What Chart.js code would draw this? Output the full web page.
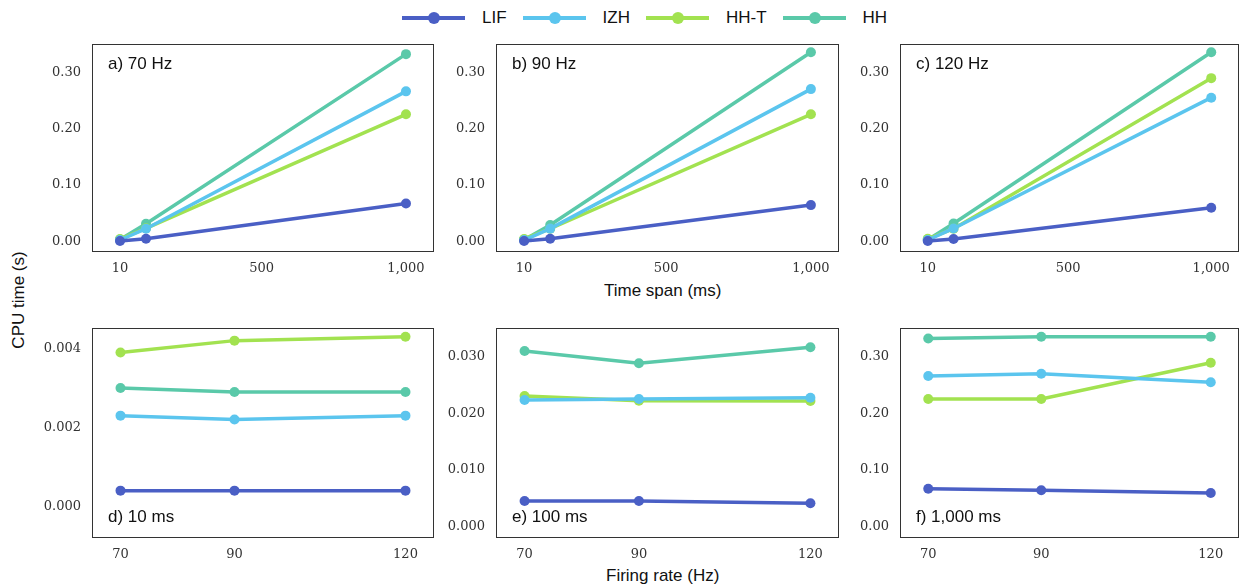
<!DOCTYPE html>
<html>
<head>
<title>CPU time per neuron model</title>
<script src="https://cdn.jsdelivr.net/npm/chart.js"></script>
<style>
  body { margin: 0; background: #fff; width: 1244px; height: 588px; position: relative; overflow: hidden;
         font-family: "Liberation Sans", Arial, sans-serif; color: #111; }
  canvas { position: absolute; }
  .ttl { position: absolute; font-size: 17px; white-space: nowrap; }
  #legend { position: absolute; left: 402px; top: 8px; display: flex; gap: 16px; align-items: center; font-size: 17px; }
  .item { display: flex; align-items: center; gap: 17px; }
  .swatch { position: relative; width: 63px; height: 4px; }
  .dot { position: absolute; left: 26px; top: -4px; width: 12px; height: 12px; border-radius: 50%; }
</style>
</head>
<body>
<div id="legend"></div>
<div class="ttl" style="left:-30px; top:290px; transform: rotate(-90deg); transform-origin: center;">CPU time (s)</div>
<div class="ttl" style="left:604px; top:281px;">Time span (ms)</div>
<div class="ttl" style="left:606px; top:566px;">Firing rate (Hz)</div>

<script>
// x values
const timeSpans = [10, 100, 1000];     // ms
const firingRates = [70, 90, 120];     // Hz

const modelNames = ['LIF', 'IZH', 'HH-T', 'HH'];
const modelColors = ['#4a5fc5', '#5bc5ee', '#a2e250', '#5ac9a9'];

// CPU time (s) at time spans 10, 100, 1000 ms
const lif70  = [0.0004, 0.00453, 0.0670];
const lif90  = [0.0004, 0.00453, 0.0642];
const lif120 = [0.0004, 0.00412, 0.0594];
const izh70  = [0.0023, 0.02236, 0.2660];
const izh90  = [0.0022, 0.02253, 0.2700];
const izh120 = [0.0023, 0.02276, 0.2548];
const hht70  = [0.0039, 0.02306, 0.2253];
const hht90  = [0.0042, 0.02224, 0.2253];
const hht120 = [0.0043, 0.02218, 0.2894];
const hh70   = [0.0030, 0.03100, 0.3320];
const hh90   = [0.0029, 0.02883, 0.3353];
const hh120  = [0.0029, 0.03166, 0.3353];

const table = [
  [lif70, lif90, lif120],
  [izh70, izh90, izh120],
  [hht70, hht90, hht120],
  [hh70, hh90, hh120]
];

// legend
const legend = document.getElementById('legend');
modelNames.forEach((name, i) => {
  const item = document.createElement('div');
  item.className = 'item';
  item.innerHTML = '<div class="swatch" style="background:' + modelColors[i] + '"><div class="dot" style="background:' + modelColors[i] + '"></div></div><span>' + name + '</span>';
  legend.appendChild(item);
});

const framePlugin = {
  id: 'frame',
  afterDraw(chart, args, opts) {
    const ctx = chart.ctx, a = chart.chartArea;
    ctx.save();
    ctx.strokeStyle = '#333';
    ctx.lineWidth = 1;
    ctx.strokeRect(a.left + 0.5, a.top + 0.5, a.right - a.left - 1, a.bottom - a.top - 1);
    ctx.font = '17px "Liberation Sans", Arial, sans-serif';
    ctx.fillStyle = '#111';
    ctx.textBaseline = 'middle';
    ctx.fillText(opts.text, a.left + 16, opts.pos === 'top' ? a.top + 20 : a.bottom - 21);
    ctx.restore();
  }
};

const padL = 62, padT = 6, padB = 34;

function noPad(s) {
  s.paddingTop = 0; s.paddingBottom = 0; s.paddingLeft = 0; s.paddingRight = 0;
}

function makePanel(box, label, labelPos, datasets, xOpt, yOpt) {
  const canvas = document.createElement('canvas');
  const padR = Math.min(4, 1244 - box.right);
  const w = box.right - box.left + padL + padR;
  const h = box.bottom - box.top + padT + padB;
  canvas.width = w; canvas.height = h;
  canvas.style.left = (box.left - padL) + 'px';
  canvas.style.top = (box.top - padT) + 'px';
  document.body.appendChild(canvas);

  new Chart(canvas, {
    type: 'line',
    data: { datasets: datasets },
    options: {
      responsive: false,
      animation: false,
      layout: { padding: { top: padT, right: padR, left: 0, bottom: 0 } },
      plugins: { legend: { display: false }, tooltip: { enabled: false }, frame: { text: label, pos: labelPos } },
      scales: {
        x: {
          type: 'linear', min: xOpt.min, max: xOpt.max,
          grid: { display: false, drawTicks: false }, border: { display: false },
          afterBuildTicks: s => { s.ticks = xOpt.ticks.map(v => ({ value: v })); },
          afterFit: s => { s.height = padB; noPad(s); },
          ticks: { padding: 9, color: '#333', font: { family: '"DejaVu Serif", serif', size: 13 },
                   callback: v => v.toLocaleString('en-US') }
        },
        y: {
          min: yOpt.min, max: yOpt.max,
          grid: { display: false, drawTicks: false }, border: { display: false },
          afterBuildTicks: s => { s.ticks = yOpt.ticks.map(v => ({ value: v })); },
          afterFit: s => { s.width = padL; noPad(s); },
          ticks: { padding: 11, color: '#333', font: { family: '"DejaVu Serif", serif', size: 13 },
                   callback: v => v.toFixed(yOpt.digits) }
        }
      }
    },
    plugins: [framePlugin]
  });
}

function series(points) {
  return modelNames.map((name, m) => ({
    label: name,
    data: points(m),
    borderColor: modelColors[m],
    backgroundColor: modelColors[m],
    pointBackgroundColor: modelColors[m],
    borderWidth: 3.5,
    pointRadius: 5,
    pointBorderWidth: 0,
    tension: 0
  }));
}

const cols = [{ left: 92, right: 435 }, { left: 496, right: 840 }, { left: 900, right: 1243 }];
const topRow = { top: 44, bottom: 252 };
const botRow = { top: 328, bottom: 538 };

// top row: one panel per firing rate, x = time span
const topLabels = ['a) 70 Hz', 'b) 90 Hz', 'c) 120 Hz'];
firingRates.forEach((rate, r) => {
  makePanel({ ...cols[r], ...topRow }, topLabels[r], 'top',
    series(m => timeSpans.map((t, k) => ({ x: t, y: table[m][r][k] }))),
    { min: -87, max: 1097, ticks: [10, 500, 1000] },
    { min: -0.019, max: 0.35, ticks: [0, 0.1, 0.2, 0.3], digits: 2 });
});

// bottom row: one panel per time span, x = firing rate
const botLabels = ['d) 10 ms', 'e) 100 ms', 'f) 1,000 ms'];
const botY = [
  { min: -0.0008, max: 0.00452, ticks: [0, 0.002, 0.004], digits: 3 },
  { min: -0.002, max: 0.03506, ticks: [0, 0.01, 0.02, 0.03], digits: 3 },
  { min: -0.02, max: 0.3506, ticks: [0, 0.1, 0.2, 0.3], digits: 2 }
];
timeSpans.forEach((t, k) => {
  makePanel({ ...cols[k], ...botRow }, botLabels[k], 'bottom',
    series(m => firingRates.map((rate, r) => ({ x: rate, y: table[m][r][k] }))),
    { min: 65, max: 125, ticks: [70, 90, 120] },
    botY[k]);
});
</script>
</body>
</html>
